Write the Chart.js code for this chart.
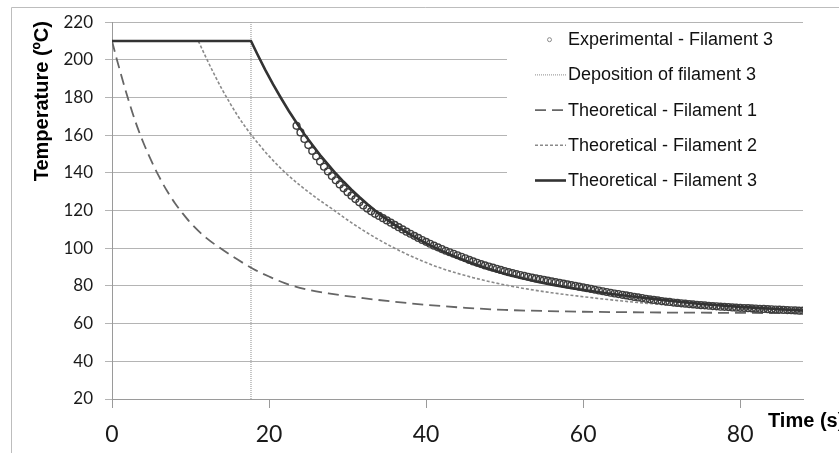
<!DOCTYPE html>
<html>
<head>
<meta charset="utf-8">
<script src="https://cdn.jsdelivr.net/npm/chart.js@4.4.1/dist/chart.umd.min.js"></script>
<style>
  html, body { margin: 0; padding: 0; background: #fff; }
  #wrap { width: 839px; height: 453px; position: relative; }
</style>
</head>
<body>
<div id="wrap"><canvas id="c" width="839" height="453"></canvas></div>
<script>
// Series names, in legend order
const seriesNames = [
  'Experimental - Filament 3',
  'Deposition of filament 3',
  'Theoretical - Filament 1',
  'Theoretical - Filament 2',
  'Theoretical - Filament 3'
];

// Axis ticks
const xTickValues = [0, 20, 40, 60, 80];
const yTickValues = [20, 40, 60, 80, 100, 120, 140, 160, 180, 200, 220];

// Experimental - Filament 3 (time in s, temperature in ºC)
const expTime = [
  23.5, 24, 24.5, 25, 25.5, 26, 26.5, 27, 27.5, 28, 28.5, 29, 29.5, 30, 30.5, 31, 31.5, 32, 32.5, 33,
  33.5, 34, 34.5, 35, 35.5, 36, 36.5, 37, 37.5, 38, 38.5, 39, 39.5, 40, 40.5, 41, 41.5, 42, 42.5, 43,
  43.5, 44, 44.5, 45, 45.5, 46, 46.5, 47, 47.5, 48, 48.5, 49, 49.5, 50, 50.5, 51, 51.5, 52, 52.5, 53,
  53.5, 54, 54.5, 55, 55.5, 56, 56.5, 57, 57.5, 58, 58.5, 59, 59.5, 60, 60.5, 61, 61.5, 62, 62.5, 63,
  63.5, 64, 64.5, 65, 65.5, 66, 66.5, 67, 67.5, 68, 68.5, 69, 69.5, 70, 70.5, 71, 71.5, 72, 72.5, 73,
  73.5, 74, 74.5, 75, 75.5, 76, 76.5, 77, 77.5, 78, 78.5, 79, 79.5, 80, 80.5, 81, 81.5, 82, 82.5, 83,
  83.5, 84, 84.5, 85, 85.5, 86, 86.5, 87, 87.5, 88
];
const expTemp = [
  165.0, 161.5, 158.0, 154.8, 151.7, 148.8, 146.0, 143.3, 140.8, 138.4, 136.1, 133.9, 131.8, 129.8, 127.9, 126.1, 124.4, 122.7, 121.1, 119.6,
  118.3, 117.2, 116.0, 114.8, 113.6, 112.4, 111.2, 110.0, 108.8, 107.7, 106.6, 105.5, 104.4, 103.4, 102.4, 101.4, 100.5, 99.6, 98.7, 97.9,
  97.1, 96.3, 95.5, 94.7, 93.8, 93.0, 92.3, 91.6, 90.9, 90.3, 89.7, 89.1, 88.5, 87.9, 87.3, 86.8, 86.3, 85.8, 85.3, 84.9,
  84.4, 84.0, 83.6, 83.2, 82.8, 82.4, 82.0, 81.6, 81.2, 80.8, 80.4, 80.0, 79.6, 79.2, 78.8, 78.4, 78.0, 77.6, 77.2, 76.8,
  76.4, 76.0, 75.7, 75.3, 75.0, 74.6, 74.2, 73.9, 73.6, 73.2, 72.9, 72.6, 72.3, 72.0, 71.7, 71.5, 71.2, 71.0, 70.8, 70.6,
  70.4, 70.2, 70.0, 69.8, 69.7, 69.5, 69.3, 69.2, 69.0, 68.9, 68.8, 68.6, 68.5, 68.4, 68.3, 68.2, 68.1, 68.0, 67.9, 67.8,
  67.7, 67.6, 67.5, 67.4, 67.3, 67.2, 67.1, 67.0, 66.9, 66.9
];

// Moment filament 3 is deposited
const depTime = [17.7, 17.7];
const depTemp = [20, 220];

// Theoretical - Filament 1
const f1Time = [0, 0.6, 1, 2, 3, 4, 5, 6, 7, 8, 9, 10, 12, 14, 16, 18, 20, 22, 25, 28, 32, 36, 40, 45, 50, 55, 60, 65, 70, 75, 80, 88];
const f1Temp = [210, 200.5, 194.5, 180, 167, 156, 146.5, 138, 130.5, 124, 118.5, 113.5, 105.5, 99.5, 94, 89, 85, 81.5, 78, 75.8, 73.5, 71.6, 70, 68.4, 67.3, 66.7, 66.3, 66.1, 65.9, 65.8, 65.7, 65.6];

// Theoretical - Filament 2
const f2Time = [11, 12, 13, 14, 15, 16, 17, 18, 19, 20, 22, 24, 26, 28, 30, 32, 34, 36, 38, 40, 42, 44, 46, 48, 50, 53, 56, 60, 65, 70, 75, 80, 84, 88];
const f2Temp = [210, 201, 192.5, 184.5, 177.2, 170.4, 164.3, 158.8, 153.7, 148.9, 140.4, 133.2, 126.8, 121.0, 115.0, 109.5, 104.5, 100.0, 96.0, 92.4, 89.3, 86.7, 84.4, 82.4, 80.6, 78.3, 76.4, 74.3, 72.0, 70.2, 68.8, 67.8, 67.2, 66.7];

// Theoretical - Filament 3
const f3Time = [0, 17.7, 18.5, 19.5, 20.5, 21.5, 22.5, 23.5, 24.5, 25.5, 26.5, 27.5, 28.5, 29.5, 30.5, 31.5, 32.5, 33.5, 34.5, 36, 38, 40, 42, 44, 46, 48, 50, 52, 54, 56, 58, 60, 63, 66, 70, 75, 80, 84, 88];
const f3Temp = [210, 210, 203.1, 194.8, 187.1, 179.9, 173.0, 166.6, 160.5, 154.9, 149.5, 144.5, 139.7, 135.3, 131.1, 127.2, 123.5, 120.0, 116.8, 112.4, 107.2, 102.6, 98.6, 95.0, 91.8, 89.0, 86.5, 84.3, 82.4, 80.7, 79.2, 77.9, 76.1, 74.5, 72.6, 70.4, 68.9, 67.9, 67.0];

const pairs = (xs, ys) => xs.map((x, i) => ({ x: x, y: ys[i] }));

const datasets = [
  {
    label: seriesNames[4], data: pairs(f3Time, f3Temp), order: 0,
    borderColor: '#333333', borderWidth: 2.6, pointRadius: 0, tension: 0, fill: false
  },
  {
    label: seriesNames[0], data: pairs(expTime, expTemp), order: 1, showLine: false,
    pointStyle: 'circle', pointRadius: 3.4, borderWidth: 1.4,
    pointBorderColor: '#3e3e3e', pointBackgroundColor: 'rgba(255,255,255,0)'
  },
  {
    label: seriesNames[3], data: pairs(f2Time, f2Temp), order: 2,
    borderColor: '#8a8a8a', borderWidth: 1.6, borderDash: [3, 2], pointRadius: 0,
    cubicInterpolationMode: 'monotone', fill: false
  },
  {
    label: seriesNames[2], data: pairs(f1Time, f1Temp), order: 3,
    borderColor: '#666666', borderWidth: 1.8, borderDash: [11, 6], pointRadius: 0,
    cubicInterpolationMode: 'monotone', fill: false
  },
  {
    label: seriesNames[1], data: pairs(depTime, depTemp), order: 4,
    borderColor: '#8c8c8c', borderWidth: 1, borderDash: [1, 1], pointRadius: 0, fill: false
  }
];

// Thin frame around the chart area
const framePlugin = {
  id: 'frame',
  beforeDraw(chart) {
    const ctx = chart.ctx;
    ctx.save();
    ctx.strokeStyle = '#bdbdbd';
    ctx.lineWidth = 1;
    ctx.beginPath();
    ctx.moveTo(11.5, chart.height);
    ctx.lineTo(11.5, 7.5);
    ctx.lineTo(chart.width, 7.5);
    ctx.stroke();
    ctx.restore();
  }
};

// Axis titles
const titlesPlugin = {
  id: 'axisTitles',
  afterDraw(chart) {
    const ctx = chart.ctx;
    const a = chart.chartArea;
    ctx.save();
    ctx.fillStyle = '#000';
    ctx.font = 'bold 20px "Liberation Sans", Arial, sans-serif';
    ctx.textAlign = 'center';
    ctx.textBaseline = 'middle';
    ctx.translate(42, a.top + 79);
    ctx.rotate(-Math.PI / 2);
    ctx.fillText('Temperature (ºC)', 0, 0);
    ctx.restore();

    ctx.save();
    ctx.fillStyle = '#000';
    ctx.font = 'bold 20px "Liberation Sans", Arial, sans-serif';
    ctx.textAlign = 'left';
    ctx.textBaseline = 'alphabetic';
    ctx.fillText('Time (s)', a.right - 35, a.bottom + 28);
    ctx.restore();
  }
};

// Legend drawn inside the plot, on a white box
const insetLegendPlugin = {
  id: 'insetLegend',
  afterDraw(chart) {
    const ctx = chart.ctx;
    const a = chart.chartArea;
    const x0 = a.left + 395, y0 = a.top + 2;
    const w = a.right - x0, h = 174;
    ctx.save();
    ctx.fillStyle = '#ffffff';
    ctx.fillRect(x0, y0, w, h);
    ctx.font = '18px "Liberation Sans", Arial, sans-serif';
    ctx.textBaseline = 'middle';
    ctx.textAlign = 'left';
    const byLabel = {};
    chart.data.datasets.forEach(d => { byLabel[d.label] = d; });
    seriesNames.forEach((name, i) => {
      const y = y0 + 15 + i * 35.2;
      const d = byLabel[name];
      const sx0 = x0 + 28, sx1 = x0 + 59;
      if (d.showLine === false) {
        ctx.beginPath();
        ctx.arc((sx0 + sx1) / 2 - 1, y + 0.5, 2, 0, Math.PI * 2);
        ctx.strokeStyle = '#8a8a8a';
        ctx.lineWidth = 1;
        ctx.setLineDash([]);
        ctx.stroke();
      } else {
        ctx.beginPath();
        ctx.moveTo(sx0, y + 0.5);
        ctx.lineTo(sx1, y + 0.5);
        ctx.strokeStyle = d.borderColor;
        ctx.lineWidth = d.borderWidth;
        ctx.setLineDash(d.borderDash || []);
        ctx.stroke();
      }
      ctx.setLineDash([]);
      ctx.fillStyle = '#111';
      ctx.fillText(name, x0 + 61, y + 1);
    });
    ctx.restore();
  }
};

new Chart(document.getElementById('c'), {
  type: 'line',
  data: { datasets: datasets },
  options: {
    responsive: false,
    animation: false,
    devicePixelRatio: 1,
    layout: { padding: { left: 0, right: 36, top: 20, bottom: 0 } },
    plugins: { legend: { display: false }, tooltip: { enabled: false } },
    scales: {
      x: {
        type: 'linear', min: 0, max: 88,
        afterBuildTicks: s => { s.ticks = xTickValues.map(v => ({ value: v })); },
        afterFit: s => { s.height = 54; },
        ticks: { font: { family: 'Lato', size: 23 }, color: '#1a1a1a', padding: 13, maxRotation: 0 },
        grid: { drawOnChartArea: false, drawTicks: true, tickLength: 9, color: '#9a9a9a' },
        border: { display: true, color: '#9a9a9a' }
      },
      y: {
        min: 20, max: 220,
        afterBuildTicks: s => { s.ticks = yTickValues.map(v => ({ value: v })); },
        afterFit: s => { s.width = 112; },
        ticks: { font: { family: 'Lato', size: 17 }, color: '#1a1a1a', padding: 12 },
        grid: { color: '#b4b4b4', tickLength: 7 },
        border: { display: true, color: '#9a9a9a' }
      }
    }
  },
  plugins: [framePlugin, insetLegendPlugin, titlesPlugin]
});
</script>
</body>
</html>
